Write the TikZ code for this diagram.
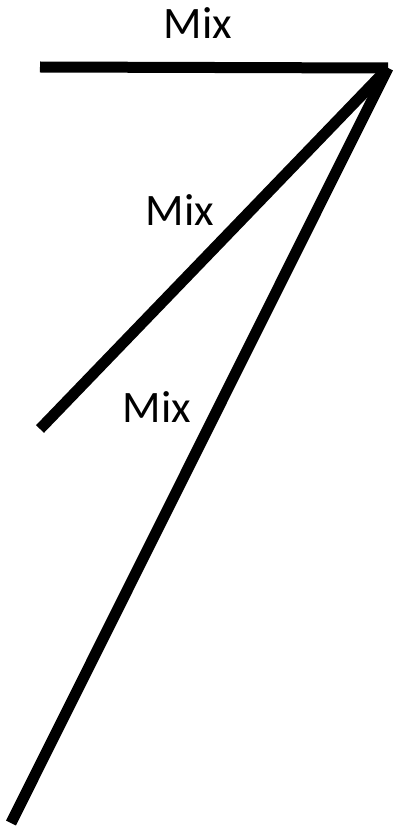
\documentclass[tikz,border=0pt]{standalone}
\usepackage{fontspec}
\setmainfont{Carlito}
\usetikzlibrary{positioning}

\begin{document}
\begin{tikzpicture}[
    x=1pt, y=-1pt,
    font=\fontsize{45}{54}\selectfont,
    bar/.style={line width=11pt, line cap=butt},
    lbl/.style={inner sep=0pt}]
  \useasboundingbox (0,0) rectangle (393,829);
  \coordinate (apex) at (388,68);
  \coordinate (topend) at (40,67);
  \coordinate (midend) at (40,429);
  \coordinate (lowend) at (11,823);
  \draw[bar] (apex) -- (topend);
  \draw[bar] (apex) -- (midend);
  \draw[bar] (apex) -- (lowend);
  \node[lbl] (toplbl) at (198,23) {Mix};
  \node[lbl] (midlbl) at (180,210) {Mix};
  \node[lbl] (lowlbl) at (157,407) {Mix};
\end{tikzpicture}
\end{document}
